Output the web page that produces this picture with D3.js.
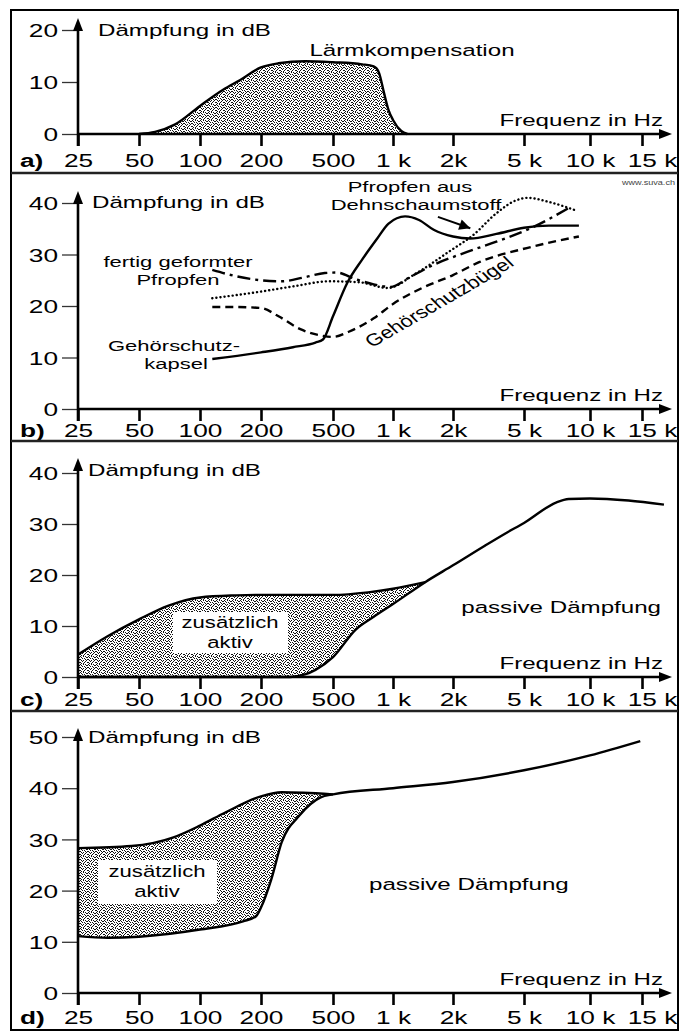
<!DOCTYPE html>
<html>
<head>
<meta charset="utf-8">
<script src="https://cdn.jsdelivr.net/npm/d3@7"></script>
<style>
  body { margin: 0; background: #fff; }
  svg { display: block; font-family: "Liberation Sans", Arial, sans-serif; }
</style>
</head>
<body>
<svg id="chart" width="680" height="1032"></svg>
<script>
// frequency axis, shared by the four panels
const freqTicks = [25, 50, 100, 200, 500, 1000, 2000, 5000, 10000, 15000];
const freqLabels = ["25", "50", "100", "200", "500", "1 k", "2k", "5 k", "10 k", "15 k"];

// a) Lärmkompensation  [Hz, dB]
const laermKomp = [[50, 0], [60, 0.4], [75, 1.8], [100, 5.4], [130, 8.5], [158, 10.4], [200, 12.8],
  [250, 13.6], [350, 14], [500, 13.8], [700, 13.4], [800, 13], [850, 11.8], [900, 8], [950, 4.6],
  [1000, 2.7], [1100, 0.6], [1180, 0]];

// b) Gehörschutz types
const kapsel = [[115, 9.7], [200, 11], [300, 12], [400, 12.9], [440, 13.5], [500, 18], [590, 24.5],
  [700, 29], [830, 33], [950, 36], [1150, 37.4], [1350, 36.7], [1600, 34.8], [2000, 33.5],
  [2500, 33.1], [3500, 34], [5000, 35.2], [6500, 35.6], [8900, 35.6]];
const buegel = [[115, 19.8], [150, 19.8], [200, 19.6], [250, 18], [330, 15.5], [440, 14.2], [500, 14],
  [600, 15], [800, 17.6], [1000, 20.4], [1400, 23.5], [2000, 26], [2800, 28.5], [5200, 31.3], [8900, 33.5]];
const schaum = [[115, 21.5], [200, 22.8], [300, 23.8], [480, 24.8], [680, 24.6], [940, 23.5],
  [1300, 26.3], [1950, 30.8], [2600, 33.8], [3500, 38], [4500, 40.5], [5200, 41], [6500, 40.2], [8700, 38.5]];
const fertig = [[115, 27], [150, 25.8], [200, 25], [260, 24.8], [350, 25.6], [450, 26.4], [520, 26.5],
  [650, 25.2], [800, 24.2], [975, 23.7], [1200, 25.5], [1600, 28], [2400, 30.5], [3500, 32.5],
  [5300, 35], [8200, 39.3]];

// c) aktiv + passiv
const cGesamt = [[25, 4.4], [35, 8], [50, 11.3], [70, 14], [100, 15.6], [150, 16], [200, 16.1],
  [500, 16.1], [750, 16.6], [1000, 17.3], [1450, 18.6]];
const cPassiv = [[25, 0], [290, 0], [350, 0.5], [400, 1.4], [500, 3.9], [650, 9.3], [800, 11.8],
  [1000, 14.3], [1450, 18.6], [2000, 21.9], [3000, 25.7], [4000, 28.3], [5000, 30.2], [7000, 34.2],
  [8000, 34.9], [10000, 35], [13500, 34.6], [17800, 33.8]];

// d) aktiv + passiv
const dGesamt = [[25, 28.3], [46, 28.7], [74, 30.4], [100, 32.7], [134, 35.3], [200, 38.4],
  [260, 39.2], [344, 39.1], [500, 38.8]];
const dPassiv = [[25, 11.1], [35, 10.8], [50, 11], [100, 12.4], [163, 14], [189, 15], [200, 16.7],
  [228, 22.2], [260, 29.4], [325, 34.6], [427, 38.2], [500, 38.8], [1000, 40], [2000, 41.2],
  [5000, 43.5], [10000, 46.4], [14800, 49.2]];

// ---- layout ----
const SX = 1.3, SXW = 1.42;   // the printed lettering is wide
const tickX = [78, 139, 200, 261, 333, 393, 453, 524, 590, 642];  // printed (uneven) axis spacing
const axisX = 78, axisEnd = 672;

const xs = d3.scaleLinear().domain(freqTicks.map(Math.log10)).range(tickX);
const X = f => xs(Math.log10(f));

const svg = d3.select("#chart");

// stipple fill
const stipple = ["10010100", "01000011", "00101000", "10000101", "01010010", "00100100", "10001001", "01010000"];
const defs = svg.append("defs");
const pat = defs.append("pattern")
  .attr("id", "stip").attr("width", 8).attr("height", 8).attr("patternUnits", "userSpaceOnUse");
pat.append("rect").attr("width", 8).attr("height", 8).attr("fill", "#fff");
stipple.forEach((row, j) => row.split("").forEach((c, i) => {
  if (c === "1") pat.append("rect").attr("x", i).attr("y", j).attr("width", 1).attr("height", 1).attr("fill", "#111");
}));
defs.append("marker")
  .attr("id", "arr").attr("viewBox", "0 0 10 10").attr("refX", 10).attr("refY", 5)
  .attr("markerWidth", 15).attr("markerHeight", 11).attr("markerUnits", "userSpaceOnUse")
  .attr("orient", "auto")
  .append("path").attr("d", "M0,0L10,5L0,10Z").attr("fill", "#000");

function label(g, x, y, s, o = {}) {
  const sx = o.sx || SX;
  const tf = o.rot
    ? `translate(${x},${y}) scale(${sx},1) rotate(${o.rot})`
    : `translate(${x},${y}) scale(${sx},1)`;
  return g.append("text")
    .attr("transform", tf)
    .attr("text-anchor", o.anchor || "start")
    .style("font-size", (o.size || 17) + "px")
    .style("font-weight", o.bold ? "bold" : "normal")
    .attr("fill", o.fill || "#000")
    .text(s);
}

const panels = [
  { name: "a)", top: 10, y0: 134, yTop: 30, max: 20, arrow: 18, lab: 167, ylab: 36, dx: 98 },
  { name: "b)", top: 173, y0: 409, yTop: 203, max: 40, arrow: 191, lab: 437, ylab: 208, dx: 92 },
  { name: "c)", top: 441, y0: 677, yTop: 473, max: 40, arrow: 458, lab: 706, ylab: 476, dx: 88 },
  { name: "d)", top: 711, y0: 993, yTop: 737, max: 50, arrow: 728, lab: 1024, ylab: 743, dx: 88 }
];

panels.forEach(p => { p.y = d3.scaleLinear().domain([0, p.max]).range([p.y0, p.yTop]); });

const line = y => d3.line().x(d => X(d[0])).y(d => y(d[1])).curve(d3.curveMonotoneX);
const area = y => d3.area().x(d => X(d[0])).y0(y(0)).y1(d => y(d[1])).curve(d3.curveMonotoneX);

// ---- fills (under axes) ----
const [pa, pb, pc, pd] = panels;
svg.append("path").attr("d", area(pa.y)(laermKomp)).attr("fill", "url(#stip)");
svg.append("path").attr("d", area(pc.y)(cGesamt)).attr("fill", "url(#stip)");
svg.append("path").attr("d", area(pc.y)(cPassiv)).attr("fill", "#fff");
svg.append("path").attr("d", area(pd.y)(dGesamt)).attr("fill", "url(#stip)");
svg.append("path").attr("d", area(pd.y)(dPassiv)).attr("fill", "#fff");

// ---- axes ----
panels.forEach(p => {
  const g = svg.append("g");
  // x axis ticks and labels
  const gx = g.append("g").attr("transform", `translate(0,${p.y0})`)
    .call(d3.axisBottom(xs).tickValues(freqTicks.map(Math.log10))
      .tickFormat((d, i) => freqLabels[i]).tickSize(12))
    .attr("font-size", null).attr("font-family", null);
  gx.select(".domain").remove();
  gx.selectAll(".tick line").attr("stroke", "#000").attr("stroke-width", 2.6);
  gx.selectAll(".tick text").attr("y", p.lab - p.y0).attr("dy", 0)
    .attr("x", (d, i) => i === freqTicks.length - 1 ? 10 / SXW : 0)
    .attr("transform", `scale(${SXW},1)`).style("font-size", "18.5px").attr("fill", "#000");

  // y axis ticks and labels
  const gy = g.append("g").attr("transform", `translate(${axisX},0)`)
    .call(d3.axisLeft(p.y).tickValues(d3.range(0, p.max + 1, 10)).tickSize(16).tickFormat(d3.format("d")))
    .attr("font-size", null).attr("font-family", null);
  gy.select(".domain").remove();
  gy.selectAll(".tick line").attr("stroke", "#333").attr("stroke-width", 1.3);
  gy.selectAll(".tick text").attr("x", -20 / SXW).attr("dy", "0.36em")
    .attr("transform", `scale(${SXW},1)`).style("font-size", "18.5px").attr("fill", "#000");

  // axis lines with arrow heads
  g.append("line").attr("x1", axisX).attr("x2", axisX).attr("y1", p.y0 + 12).attr("y2", p.arrow + 8)
    .attr("stroke", "#000").attr("stroke-width", 2.6);
  g.append("path").attr("d", `M${axisX},${p.arrow}l-5,13h10z`).attr("fill", "#000");
  g.append("line").attr("x1", axisX).attr("x2", axisEnd - 8).attr("y1", p.y0).attr("y2", p.y0)
    .attr("stroke", "#000").attr("stroke-width", 2.6);
  g.append("path").attr("d", `M${axisEnd},${p.y0}l-13,-5v10z`).attr("fill", "#000");

  label(g, 20, p.lab, p.name, { size: 18.5, bold: true, sx: SXW });
  label(g, p.dx, p.ylab, "Dämpfung in dB", { sx: SXW });
  label(g, 663, p.y0 - 8, "Frequenz in Hz", { anchor: "end", sx: SXW });
});

// ---- curves ----
const stroke = (data, y, dash) => svg.append("path").attr("d", line(y)(data))
  .attr("fill", "none").attr("stroke", "#000").attr("stroke-width", 2.4)
  .attr("stroke-dasharray", dash || null).attr("stroke-linecap", dash === "0.1,4" ? "round" : "butt");

stroke(laermKomp, pa.y);
label(svg, 412, 56, "Lärmkompensation", { anchor: "middle", sx: SXW });

stroke(buegel, pb.y, "8,5");
stroke(schaum, pb.y, "0.1,4");
stroke(fertig, pb.y, "13,5,3,5");
stroke(kapsel, pb.y);
svg.append("line")
  .attr("x1", X(1680)).attr("y1", pb.y(37.3)).attr("x2", X(2500)).attr("y2", pb.y(35.1))
  .attr("stroke", "#000").attr("stroke-width", 2).attr("marker-end", "url(#arr)");
const small = { anchor: "middle", size: 15.5, sx: SXW };
label(svg, 410, 192, "Pfropfen aus", small);
label(svg, 416, 210, "Dehnschaumstoff", small);
label(svg, 178, 267, "fertig geformter", small);
label(svg, 178, 285, "Pfropfen", small);
label(svg, 174, 351, "Gehörschutz-", small);
label(svg, 176, 369, "kapsel", small);
label(svg, 372, 348, "Gehörschutzbügel", { rot: -37 });
label(svg, 675, 185, "www.suva.ch", { anchor: "end", size: 7, fill: "#444" });

stroke(cGesamt, pc.y);
stroke(cPassiv, pc.y);
svg.append("rect").attr("x", 173).attr("y", 612).attr("width", 115).attr("height", 41).attr("fill", "#fff");
label(svg, 230, 628, "zusätzlich", { anchor: "middle" });
label(svg, 230, 648, "aktiv", { anchor: "middle" });
label(svg, 661, 613, "passive Dämpfung", { anchor: "end", sx: SXW });

stroke(dGesamt, pd.y);
stroke(dPassiv, pd.y);
svg.append("rect").attr("x", 98).attr("y", 860).attr("width", 119).attr("height", 44).attr("fill", "#fff");
label(svg, 157, 877, "zusätzlich", { anchor: "middle" });
label(svg, 157, 897, "aktiv", { anchor: "middle" });
label(svg, 369, 890, "passive Dämpfung", { sx: SXW });

// ---- frame ----
svg.append("rect").attr("x", 11).attr("y", 10).attr("width", 667).attr("height", 1020)
  .attr("fill", "none").attr("stroke", "#000").attr("stroke-width", 2);
panels.slice(1).forEach(p => svg.append("line").attr("x1", 11).attr("x2", 678)
  .attr("y1", p.top).attr("y2", p.top).attr("stroke", "#222").attr("stroke-width", 2.5));
</script>
</body>
</html>
